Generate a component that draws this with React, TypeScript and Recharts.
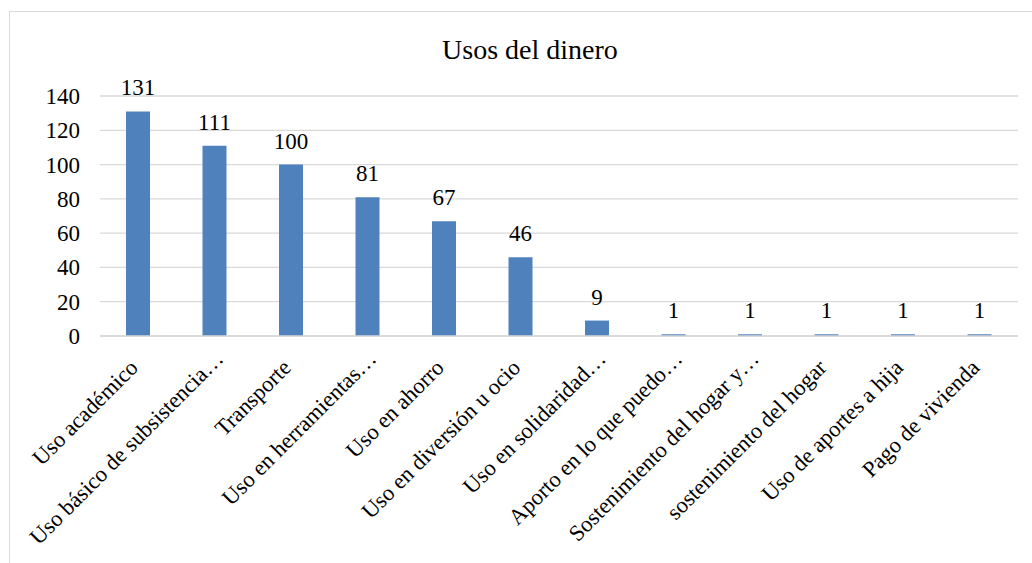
import React from 'react';
import { BarChart, Bar, XAxis, YAxis, CartesianGrid, LabelList } from 'recharts';

const categories = [
  'Uso académico',
  'Uso básico de subsistencia…',
  'Transporte',
  'Uso en herramientas…',
  'Uso en ahorro',
  'Uso en diversión u ocio',
  'Uso en solidaridad…',
  'Aporto en lo que puedo…',
  'Sostenimiento del hogar y…',
  'sostenimiento del hogar',
  'Uso de aportes a hija',
  'Pago de vivienda',
];

const counts = [131, 111, 100, 81, 67, 46, 9, 1, 1, 1, 1, 1];

const yTicks = [0, 20, 40, 60, 80, 100, 120, 140];

const data = categories.map((name, i) => ({ name, count: counts[i] }));

const FONT = "'Liberation Serif', 'Times New Roman', serif";

const CategoryTick = (props: any) => {
  const { x, y, payload } = props;
  // truncated labels sit a bit further up the diagonal in the original
  const shift = String(payload.value).endsWith('…') ? 9 : 0;
  return (
    <g transform={`translate(${x + 1 + shift},${y + 25 - shift})`}>
      <text
        transform="rotate(-45)"
        textAnchor="end"
        fontFamily={FONT}
        style={{ fontFamily: FONT, fontSize: 22.5 }}
        fill="#000"
      >
        {payload.value}
      </text>
    </g>
  );
};

const ValueTick = (props: any) => {
  const { x, y, payload } = props;
  return (
    <text
      x={x}
      y={y}
      dy="0.35em"
      textAnchor="end"
      fontFamily={FONT}
      style={{ fontFamily: FONT, fontSize: 23 }}
      fill="#000"
    >
      {payload.value}
    </text>
  );
};

const TopLabel = (props: any) => {
  const { x, y, width, value } = props;
  return (
    <text
      x={x + width / 2}
      y={y - 16}
      textAnchor="middle"
      fontFamily={FONT}
      style={{ fontFamily: FONT, fontSize: 23 }}
      fill="#000"
    >
      {value}
    </text>
  );
};

export default function App() {
  return (
    <div style={{ position: 'absolute', left: 0, top: 0, width: 1032, height: 563, background: '#fff', overflow: 'hidden', fontFamily: FONT }}>
      <div
        style={{
          position: 'absolute',
          left: 9,
          top: 11,
          width: 1040,
          height: 600,
          border: '1px solid #d9d9d9',
          boxSizing: 'border-box',
        }}
      />
      <div
        style={{
          position: 'absolute',
          left: 0,
          width: 1060,
          top: 32,
          textAlign: 'center',
          fontFamily: FONT,
          fontSize: 28,
          lineHeight: '36px',
          color: '#000',
        }}
      >
        Usos del dinero
      </div>
      <div style={{ position: 'absolute', left: 0, top: 0 }}>
        <BarChart
          width={1032}
          height={563}
          data={data}
          margin={{ top: 96, right: 14, bottom: 27, left: 40 }}
          barCategoryGap="34%"
          style={{ fontFamily: FONT }}
        >
          <CartesianGrid vertical={false} stroke="#d9d9d9" strokeWidth={1.3} />
          <XAxis
            dataKey="name"
            interval={0}
            height={200}
            axisLine={{ stroke: '#d9d9d9', strokeWidth: 1.3 }}
            tickLine={false}
            tick={<CategoryTick />}
          />
          <YAxis
            width={60}
            domain={[0, 140]}
            ticks={yTicks}
            axisLine={false}
            tickLine={false}
            tickSize={0}
            tickMargin={20}
            tick={<ValueTick />}
          />
          <Bar dataKey="count" fill="#4f81bd" isAnimationActive={false}>
            <LabelList dataKey="count" content={<TopLabel />} />
          </Bar>
        </BarChart>
      </div>
    </div>
  );
}
